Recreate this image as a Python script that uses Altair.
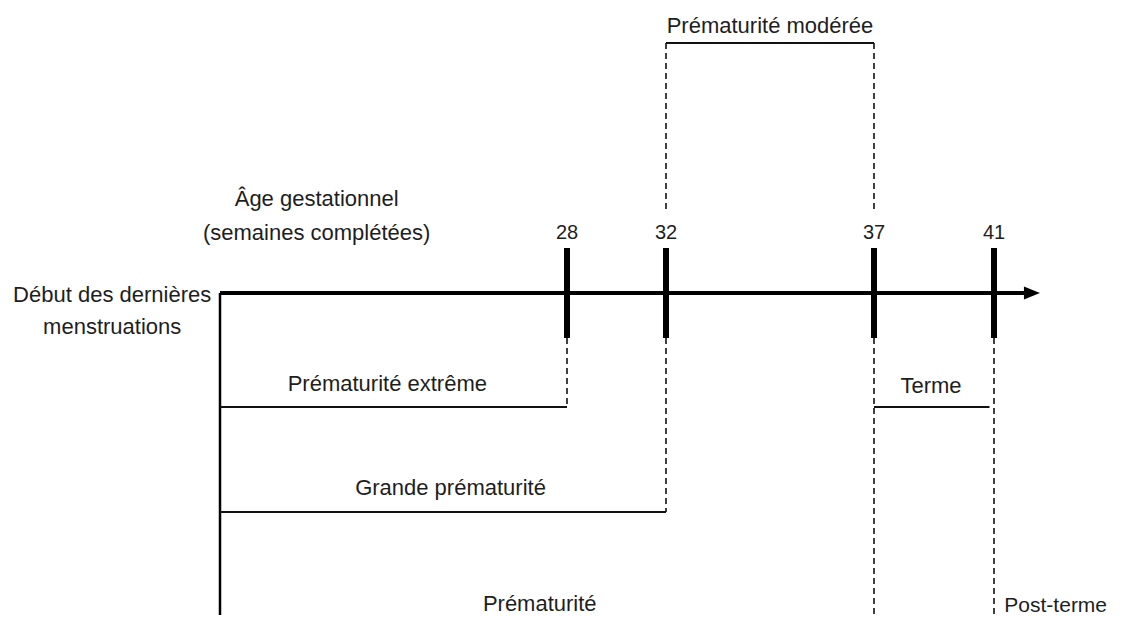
import altair as alt
import pandas as pd

# ---------------- data ----------------
# Completed weeks marked on the gestational-age axis
weeks = [28, 32, 37, 41]
week_labels = ["28", "32", "37", "41"]
# how far down (diagram row) each dashed drop line from a week mark goes
drop_end_rows = [407, 512, 615, 615]

# Solid spans under the axis (start week, end week, row)
span_names = ["Prématurité extrême", "Grande prématurité", "Terme"]
span_start = [0, 0, 37]
span_end = [28, 32, 40.85]
span_rows = [407, 512, 407]

# Moderate prematurity bracket above the axis
moderate_start = [32]
moderate_end = [37]

# Text labels (anchor in weeks, row)
label_texts = ["Prématurité modérée", "Âge gestationnel", "(semaines complétées)",
               "Début des dernières", "menstruations", "Prématurité extrême",
               "Grande prématurité", "Terme", "Prématurité"]
label_weeks = [34.5, 7.8, 7.8, -8.7, -8.7, 13.5, 18.6, 38.9, 25.8]
label_rows = [33, 206, 240, 302, 334, 391, 495, 393, 611]

post_texts = ["Post-terme"]
post_weeks = [41.45]
post_rows = [612]

# diagram rows
AXIS_ROW = 293
TICK_TOP, TICK_BOTTOM = 248, 338
TICK_LABEL_ROW = 239
BRACKET_TOP, BRACKET_BOTTOM = 43, 212
BOTTOM_ROW = 615

# ---------------- scales ----------------
FONT = "Liberation Sans"
TXT = "#1e1e1e"
x_scale = alt.Scale(domain=[0, 28, 32, 37, 41, 43],
                    range=[212, 559, 658, 866, 986, 1032], zero=False, nice=False)
y_scale = alt.Scale(domain=[8, 615], range=[0, 607], zero=False, nice=False)


def X(field):
    return alt.X(field, type="quantitative", scale=x_scale, axis=None)


def Y(field):
    return alt.Y(field, type="quantitative", scale=y_scale, axis=None)


ticks_df = pd.DataFrame({
    "week": weeks, "label": week_labels, "drop_end": drop_end_rows,
    "top": [TICK_TOP] * len(weeks), "bottom": [TICK_BOTTOM] * len(weeks),
    "label_row": [TICK_LABEL_ROW] * len(weeks),
})
spans_df = pd.DataFrame({"name": span_names, "start": span_start, "end": span_end, "row": span_rows})
mod_df = pd.DataFrame({"start": moderate_start, "end": moderate_end, "row": [BRACKET_TOP]})
mod_v_df = pd.DataFrame({"week": moderate_start + moderate_end,
                         "top": [BRACKET_TOP] * 2, "bottom": [BRACKET_BOTTOM] * 2})
labels_df = pd.DataFrame({"text": label_texts, "week": label_weeks, "row": label_rows})
post_df = pd.DataFrame({"text": post_texts, "week": post_weeks, "row": post_rows})
axis_df = pd.DataFrame({"start": [0], "end": [42.4], "tip": [42.65],
                        "row": [AXIS_ROW], "bottom": [BOTTOM_ROW]})

# main horizontal axis with arrow head
main_axis = alt.Chart(axis_df).mark_rule(color="black", strokeWidth=4).encode(
    x=X("start"), x2="end", y=Y("row"))
arrow = alt.Chart(axis_df).mark_point(
    shape="M-1,-0.8L1,0L-1,0.8Z", filled=True, color="black", opacity=1, size=256
).encode(x=X("tip"), y=Y("row"))

# left vertical line (start of last menstrual period)
left_line = alt.Chart(axis_df).mark_rule(color="black", strokeWidth=2.5).encode(
    x=X("start"), y=Y("row"), y2="bottom")

# week tick marks and labels
tick_marks = alt.Chart(ticks_df).mark_rule(color="black", strokeWidth=6).encode(
    x=X("week"), y=Y("top"), y2="bottom")
tick_text = alt.Chart(ticks_df).mark_text(
    font=FONT, fontSize=20, color=TXT, align="center", baseline="alphabetic"
).encode(x=X("week"), y=Y("label_row"), text="label:N")

# dashed drop lines below week marks
drops = alt.Chart(ticks_df).mark_rule(color="#111", strokeWidth=1.6, strokeDash=[6, 4]).encode(
    x=X("week"), y=Y("bottom"), y2="drop_end")

# solid spans
spans = alt.Chart(spans_df).mark_rule(color="#111", strokeWidth=2).encode(
    x=X("start"), x2="end", y=Y("row"))

# moderate prematurity bracket
mod_h = alt.Chart(mod_df).mark_rule(color="#111", strokeWidth=2).encode(
    x=X("start"), x2="end", y=Y("row"))
mod_v = alt.Chart(mod_v_df).mark_rule(color="#111", strokeWidth=1.6, strokeDash=[6, 4]).encode(
    x=X("week"), y=Y("top"), y2="bottom")

labels = alt.Chart(labels_df).mark_text(
    font=FONT, fontSize=22, color=TXT, align="center", baseline="alphabetic"
).encode(x=X("week"), y=Y("row"), text="text:N")
post = alt.Chart(post_df).mark_text(
    font=FONT, fontSize=21, color=TXT, align="left", baseline="alphabetic"
).encode(x=X("week"), y=Y("row"), text="text:N")

chart = alt.layer(
    main_axis, arrow, left_line, drops, spans, mod_h, mod_v, tick_marks, tick_text, labels, post
).properties(
    width=1105, height=607, autosize=alt.AutoSizeParams(type="none"), padding=0,
    background="white"
).configure_view(stroke=None)

chart.save("out.html", embed_options={"renderer": "svg", "actions": False})
